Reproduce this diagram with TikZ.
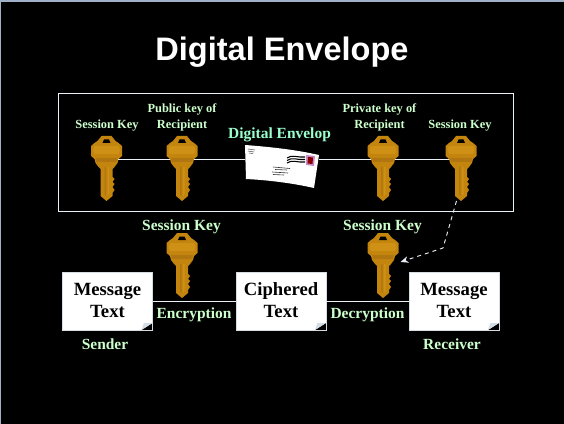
\documentclass[tikz,border=0pt]{standalone}
\usepackage{fontspec}
\setmainfont{Liberation Serif}
\newfontfamily\titlefont{Liberation Sans}
\usepackage{tikz}
\usetikzlibrary{arrows.meta}
\definecolor{slideedge}{HTML}{9FB0C8}
\definecolor{labelgreen}{HTML}{CCFFCC}
\definecolor{envelopgreen}{HTML}{99FFCC}
\definecolor{keybase}{HTML}{C4850F}
\definecolor{keydark}{HTML}{B27610}
\definecolor{keylight}{HTML}{CF9016}
\definecolor{foldgrey}{HTML}{D4DCE4}
\definecolor{linepale}{HTML}{E8F0F8}
\tikzset{
    smalllabel/.style={
        text=labelgreen,
        align=center,
        font=\fontsize{9.3}{12}\selectfont\bfseries
    },
    biglabel/.style={
        text=labelgreen,
        align=center,
        font=\fontsize{11.6}{14}\selectfont\bfseries
    },
    keyhead/.style={
        minimum width=17.25pt,
        minimum height=30pt,
        inner sep=0pt
    },
    notebox/.style={
        fill=white,
        draw=foldgrey,
        minimum width=67.5pt,
        minimum height=43.5pt,
        inner sep=0pt,
        align=center,
        font=\fontsize{14}{16.5}\selectfont\bfseries,
        path picture={
            \fill [black] ([xshift=-8.25pt]path picture bounding box.south east)
                -- (path picture bounding box.south east)
                -- ([yshift=5.25pt]path picture bounding box.south east) -- cycle;
            \fill [foldgrey] ([xshift=-8.25pt]path picture bounding box.south east)
                -- ([xshift=-6.5pt,yshift=5.25pt]path picture bounding box.south east)
                -- ([yshift=5.25pt]path picture bounding box.south east) -- cycle;
        }
    },
    link/.style={
        draw=linepale,
        line width=0.6pt
    },
    keyshape/.pic={
        \begin{scope}[shift={(0,-23)}]
            \fill [keybase] (-5,0) -- (5,0) -- (9,5) -- (12,7) -- (15.5,10) -- (15.5,20)
                -- (12,23) -- (11,27) -- (8,31) -- (6,33) -- (6,41) -- (8,43) -- (6,46)
                -- (8,48) -- (6,51) -- (8,54) -- (6,57) -- (6,60) -- (0,65) -- (-6,60)
                -- (-6,33) -- (-8,31) -- (-11,27) -- (-12,23) -- (-15.5,20) -- (-15.5,10)
                -- (-12,7) -- (-9,5) -- cycle;
            \fill [keylight] (-12,10) -- (12,10) -- (13.5,14) -- (12,18) -- (-12,18) -- (-13.5,14) -- cycle;
            \fill [keydark] (-11,22) -- (11,22) -- (10,26) -- (-10,26) -- cycle;
            \fill [keydark] (-2,31) -- (-0.5,31) -- (-0.5,60) -- (-2,59) -- cycle;
            \fill [keylight] (1,31) -- (2.5,31) -- (2.5,58) -- (1,60) -- cycle;
            \fill [black] (-4,7) -- (4,7) -- (2.5,3.5) -- (-2.5,3.5) -- cycle;
        \end{scope}
    },
    envelopshape/.pic={
        \fill [white] (-37,-14) .. controls (-10,-12) and (15,-9) .. (37,-4)
            -- (32,29) .. controls (10,24) and (-15,21) .. (-36,20) -- cycle;
        % Return address
        \draw [black!70, line width=0.4pt] (-34,-10) -- (-27,-9) (-34,-8) -- (-28,-7) (-33,-6) -- (-29,-5.5);
        % Postmark
        \draw [black, line width=0.8pt] (5,-1) .. controls (10,-5) and (16,-1) .. (23,-2);
        \draw [black, line width=0.8pt] (5,1.5) .. controls (10,-2.5) and (16,1.5) .. (23,0.5);
        \draw [black, line width=0.8pt] (5,4) .. controls (10,0) and (16,4) .. (23,3);
        \fill [violet!45] (24,-4) -- (33,-3) -- (32,7) -- (24,6) -- cycle;
        \fill [red!55!black] (26,-2) -- (31,-1.5) -- (30.5,5) -- (25.5,4.5) -- cycle;
        % Address
        \draw [black!80, line width=0.45pt] (-9,8) -- (8,9.5) (-7,10.5) -- (5,11) (-10,13) -- (6,14) (-9,15.5) -- (2,16);
    }
}

\begin{document}
\begin{tikzpicture}[x=0.75pt,y=-0.75pt]
            % Slide
            \useasboundingbox (0,0) rectangle (564,424);
            \fill [black] (0,0) rectangle (564,424);
            \fill [slideedge] (0,0) rectangle (564,2);
            \fill [slideedge] (0,0) rectangle (1,424);

            \node (title) [
                text=white,
                font=\fontsize{24.4}{28}\selectfont\titlefont\bfseries,
            ] at (282,52) {Digital Envelope};

            % Frame
            \node (frame) [
                draw=linepale,
                line width=0.6pt,
                minimum width=341.25pt,
                minimum height=88.5pt,
            ] at (285.5,152.5) {};

            % Keys
            \node (sessionA) [keyhead] at (106.5,159) {};
            \node (publicKey) [keyhead] at (182,159) {};
            \node (privateKey) [keyhead] at (383,159) {};
            \node (sessionB) [keyhead] at (461,159) {};
            \node (encKey) [keyhead] at (182,256) {};
            \node (decKey) [keyhead] at (383,256) {};
            \pic at (sessionA) {keyshape};
            \pic at (publicKey) {keyshape};
            \pic at (privateKey) {keyshape};
            \pic at (sessionB) {keyshape};
            \pic at (encKey) {keyshape};
            \pic at (decKey) {keyshape};

            % Envelope
            \node (envelop) [
                minimum width=55.5pt,
                minimum height=20pt,
                inner sep=0pt,
            ] at (282,159) {};
            \pic at (envelop) {envelopshape};

            % Boxes
            \node (plainA) [notebox] at (107.5,301) {\raisebox{1.5pt}{Message}\\\raisebox{1.5pt}{Text}};
            \node (cipher) [notebox] at (281,301) {\raisebox{1.5pt}{Ciphered}\\\raisebox{1.5pt}{Text}};
            \node (plainB) [notebox] at (454,301) {\raisebox{1.5pt}{Message}\\\raisebox{1.5pt}{Text}};

            % Labels
            \node (lblSessionA) [smalllabel] at (107,126) {Session Key};
            \node (lblPublic) [smalllabel] at (182,117) {Public key of\\Recipient};
            \node (lblEnvelop) [biglabel, text=envelopgreen] at (279.5,135) {Digital Envelop};
            \node (lblPrivate) [smalllabel] at (379.5,117) {Private key of\\Recipient};
            \node (lblSessionB) [smalllabel] at (460,126) {Session Key};
            \node (lblEncKey) [biglabel] at (181.5,227) {Session Key};
            \node (lblDecKey) [biglabel] at (382.5,227) {Session Key};
            \node (lblEnc) [biglabel] at (194,315) {Encryption};
            \node (lblDec) [biglabel] at (367.5,315) {Decryption};
            \node (lblSender) [biglabel] at (105,344) {Sender};
            \node (lblReceiver) [biglabel] at (452,344) {Receiver};

            % Edges
            \path [link]
                (sessionA.east) edge (publicKey.west)
                (publicKey.east) edge (envelop.west)
                (envelop.east) edge (privateKey.west)
                (privateKey.east) edge (sessionB.west)
                (plainA.east) edge (cipher.west)
                (cipher.east) edge (plainB.west)
            ;

            % Dashed link to the second session key
            \coordinate (sessionTip) at (456.5,201);
            \coordinate (dashBend) at (443,248);
            \coordinate (decNear) at (400.5,262);
            \draw [-{Stealth[length=6pt,width=5pt,fill=linepale]}, dashed, draw=linepale, line width=0.7pt]
                (sessionTip) -- (dashBend) -- (decNear);
\end{tikzpicture}
\end{document}
